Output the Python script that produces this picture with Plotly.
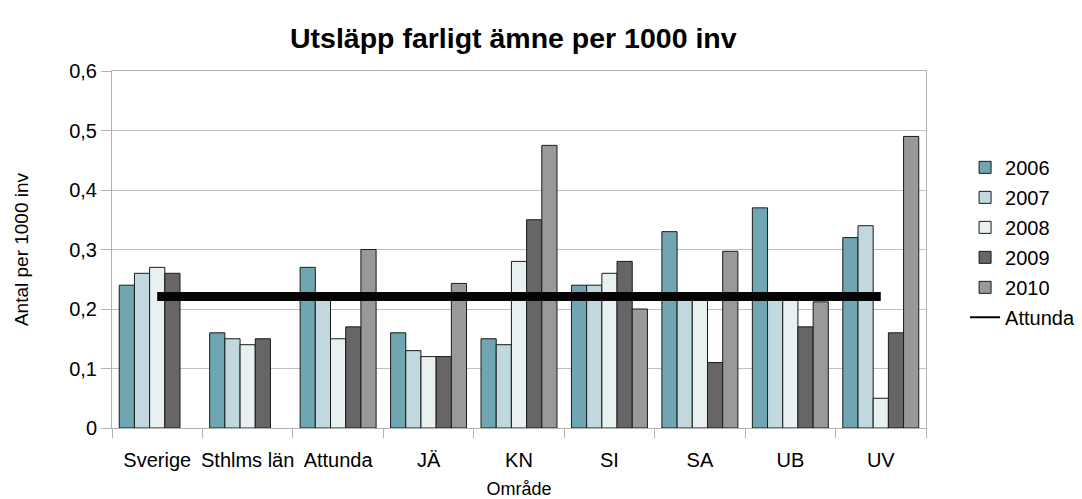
import plotly.graph_objects as go

categories = ["Sverige", "Sthlms län", "Attunda", "JÄ", "KN", "SI", "SA", "UB", "UV"]
years = ["2006", "2007", "2008", "2009", "2010"]
v2006 = [0.24, 0.16, 0.27, 0.16, 0.15, 0.24, 0.33, 0.37, 0.32]
v2007 = [0.26, 0.15, 0.22, 0.13, 0.14, 0.24, 0.227, 0.227, 0.34]
v2008 = [0.27, 0.14, 0.15, 0.12, 0.28, 0.26, 0.227, 0.227, 0.05]
v2009 = [0.26, 0.15, 0.17, 0.12, 0.35, 0.28, 0.11, 0.17, 0.16]
v2010 = [None, None, 0.30, 0.243, 0.475, 0.20, 0.297, 0.212, 0.49]
attunda = [0.221] * len(categories)
ytick_vals = [0, 0.1, 0.2, 0.3, 0.4, 0.5, 0.6]
ytick_text = ["0", "0,1", "0,2", "0,3", "0,4", "0,5", "0,6"]

colors = ["#6fa6b2", "#c0d8de", "#e8f0f2", "#666666", "#999999"]
series = [v2006, v2007, v2008, v2009, v2010]

fig = go.Figure()
for name, vals, col in zip(years, series, colors):
    fig.add_trace(go.Bar(
        x=categories, y=vals, name=name, legendgroup=name,
        marker=dict(color=col, line=dict(color="#1a1a1a", width=1)),
    ))
# Thick reference line (legend entry shown by a thin-styled twin below)
fig.add_trace(go.Scatter(
    x=categories, y=attunda, name="Attunda", legendgroup="Attunda",
    mode="lines", line=dict(color="#050505", width=9), showlegend=False,
))
fig.add_trace(go.Scatter(
    x=categories, y=[None] * len(categories), name="Attunda", legendgroup="Attunda",
    mode="lines", line=dict(color="#000000", width=2), showlegend=True,
    hoverinfo="skip",
))

# page body has an 8px margin: figure is sized/offset to compensate
W, H = 1074, 491
font = "Liberation Sans, Arial, sans-serif"
fig.update_layout(
    width=W, height=H,
    margin=dict(l=104, r=156, t=63, b=71, autoexpand=False),
    paper_bgcolor="white", plot_bgcolor="white",
    font=dict(family=font, size=20, color="#000000"),
    title=dict(text="<b>Utsläpp farligt ämne per 1000 inv</b>", x=0.493, xref="paper",
               xanchor="center", y=1 - 30 / H, yref="container", yanchor="middle",
               font=dict(size=28.5, family=font)),
    barmode="group", bargap=0.16, bargroupgap=0,
    showlegend=True,
    legend=dict(x=1.048, xanchor="left", y=0.52, yanchor="middle",
                font=dict(size=20), tracegroupgap=1, bgcolor="rgba(0,0,0,0)",
                itemwidth=30),
    xaxis=dict(
        title=dict(text="Område", font=dict(size=18), standoff=16),
        showline=True, linecolor="#b3b3b3", linewidth=1, mirror=True,
        ticks="outside", tickson="boundaries", ticklen=9, tickcolor="#b3b3b3",
        showgrid=False, tickfont=dict(size=20), automargin=True,
        tickangle=0, ticklabelstandoff=14,
    ),
    yaxis=dict(
        title=dict(text="Antal per 1000 inv", font=dict(size=19), standoff=35),
        range=[0, 0.6], tickvals=ytick_vals, ticktext=ytick_text,
        showgrid=True, gridcolor="#c0c0c0", gridwidth=1,
        showline=True, linecolor="#b3b3b3", linewidth=1, mirror=True,
        ticks="outside", ticklen=10, tickcolor="#b3b3b3",
        zeroline=False, tickfont=dict(size=20), automargin=True,
    ),
)

fig.write_html("out.html")
